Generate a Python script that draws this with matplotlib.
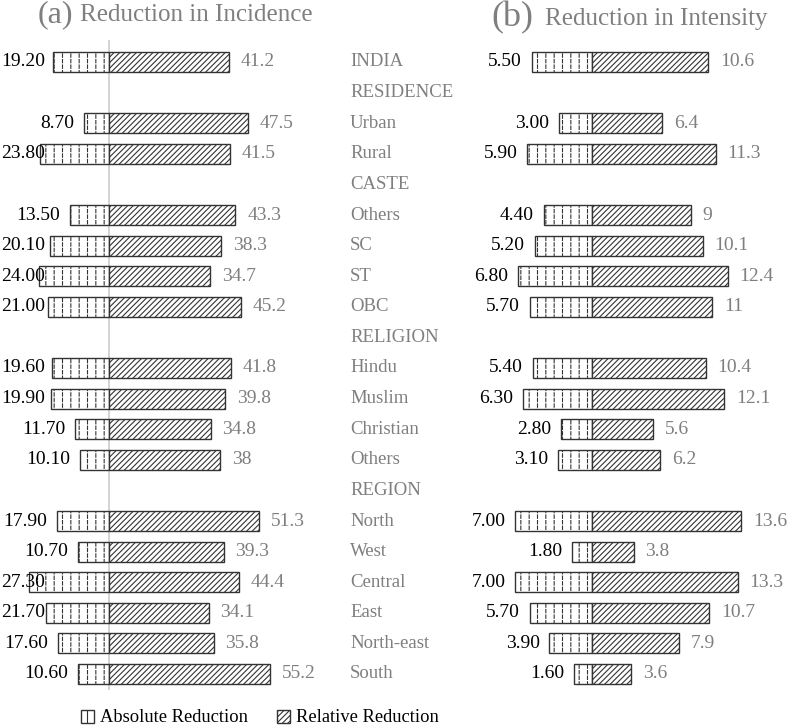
import matplotlib.pyplot as plt
from matplotlib.patches import Patch

plt.rcParams['font.family'] = ['Liberation Serif', 'DejaVu Serif']
plt.rcParams['hatch.linewidth'] = 0.8

categories = ['INDIA', 'RESIDENCE', 'Urban', 'Rural', 'CASTE', 'Others', 'SC', 'ST', 'OBC',
              'RELIGION', 'Hindu', 'Muslim', 'Christian', 'Others', 'REGION', 'North', 'West',
              'Central', 'East', 'North-east', 'South']

# None = heading row without bars
inc_abs = [19.2, None, 8.7, 23.8, None, 13.5, 20.1, 24.0, 21.0, None, 19.6, 19.9, 11.7, 10.1,
           None, 17.9, 10.7, 27.3, 21.7, 17.6, 10.6]
inc_rel = [41.2, None, 47.5, 41.5, None, 43.3, 38.3, 34.7, 45.2, None, 41.8, 39.8, 34.8, 38,
           None, 51.3, 39.3, 44.4, 34.1, 35.8, 55.2]
int_abs = [5.5, None, 3.0, 5.9, None, 4.4, 5.2, 6.8, 5.7, None, 5.4, 6.3, 2.8, 3.1,
           None, 7.0, 1.8, 7.0, 5.7, 3.9, 1.6]
int_rel = [10.6, None, 6.4, 11.3, None, 9, 10.1, 12.4, 11, None, 10.4, 12.1, 5.6, 6.2,
           None, 13.6, 3.8, 13.3, 10.7, 7.9, 3.6]

W, H = 787, 725
fig = plt.figure(figsize=(W / 100, H / 100), dpi=100)

top, bot = 40, 690
ax1 = fig.add_axes([20 / W, 1 - bot / H, 450 / W, (bot - top) / H])
ax2 = fig.add_axes([470 / W, 1 - bot / H, 317 / W, (bot - top) / H])

# pixel -> data mapping: zero at x=109 (2.92 px/unit) and x=592 (10.95 px/unit)
ax1.set_xlim(-(109 - 20) / 2.92, (470 - 109) / 2.92)
ax2.set_xlim(-(592 - 470) / 10.95, (787 - 592) / 10.95)

ylo = (top - 62) / 30.6
yhi = (bot - 62) / 30.6

edge = '#333333'
grey = '#7f7f7f'
fs = 14
abs_labels = []


def abs_bar(ax, y, w, height=0.66):
    # vertical dashed hatch: vertical lines broken by white horizontal lines
    ax.barh(y, w, height=height, color='white', edgecolor=edge, linewidth=0, hatch='||')
    ax.barh(y, w, height=height, color='none', edgecolor='white', linewidth=0, hatch='---')
    ax.barh(y, w, height=height, color='none', edgecolor=edge, linewidth=1)


def draw_panel(ax, absv, relv):
    for i, (a, r) in enumerate(zip(absv, relv)):
        if a is None:
            continue
        abs_bar(ax, i, -a)
        ax.barh(i, r, height=0.66, color='white', edgecolor=edge, linewidth=1, hatch='//////')
        t = ax.annotate('%.2f' % a, (-a, i), xytext=(-7, 0), textcoords='offset points',
                        ha='right', va='center', fontsize=fs)
        abs_labels.append(t)
        ax.annotate('%g' % r, (r, i), xytext=(8.5, 0), textcoords='offset points',
                    ha='left', va='center', fontsize=fs, color=grey)
    ax.set_ylim(yhi, ylo)
    ax.axis('off')


draw_panel(ax1, inc_abs, inc_rel)
draw_panel(ax2, int_abs, int_rel)
ax1.axvline(0, color='#cccccc', linewidth=1.2, zorder=0)

for i, c in enumerate(categories):
    ax1.text((350 - 109) / 2.92, i, c, ha='left', va='center', fontsize=13.5, color=grey)

fig.text(38 / W, 1 - 15 / H, '(a)', fontsize=23, color=grey, va='center')
fig.text(80 / W, 1 - 15 / H, 'Reduction in Incidence', fontsize=18, color=grey, va='center')
fig.text(491 / W, 1 - 18 / H, '(b)', fontsize=26, color=grey, va='center')
fig.text(545 / W, 1 - 19 / H, 'Reduction in Intensity', fontsize=18, color=grey, va='center')

handles = [Patch(facecolor='white', edgecolor=edge, hatch='||', label='Absolute Reduction'),
           Patch(facecolor='white', edgecolor=edge, hatch='//////', label='Relative Reduction')]
fig.legend(handles=handles, loc='center', bbox_to_anchor=(260 / W, 1 - 718 / H), ncol=2,
           frameon=False, fontsize=13.3, handlelength=0.7, handleheight=0.7,
           handletextpad=0.3, columnspacing=1.6)

# labels that would run off the left edge are pushed back inside
fig.canvas.draw()
r = fig.canvas.get_renderer()
for t in abs_labels:
    bb = t.get_window_extent(r)
    if bb.x0 < 1:
        ox, oy = t.xyann
        t.xyann = (ox + (1 - bb.x0) * 72 / fig.dpi, oy)

fig.savefig('out.png', dpi=100)
